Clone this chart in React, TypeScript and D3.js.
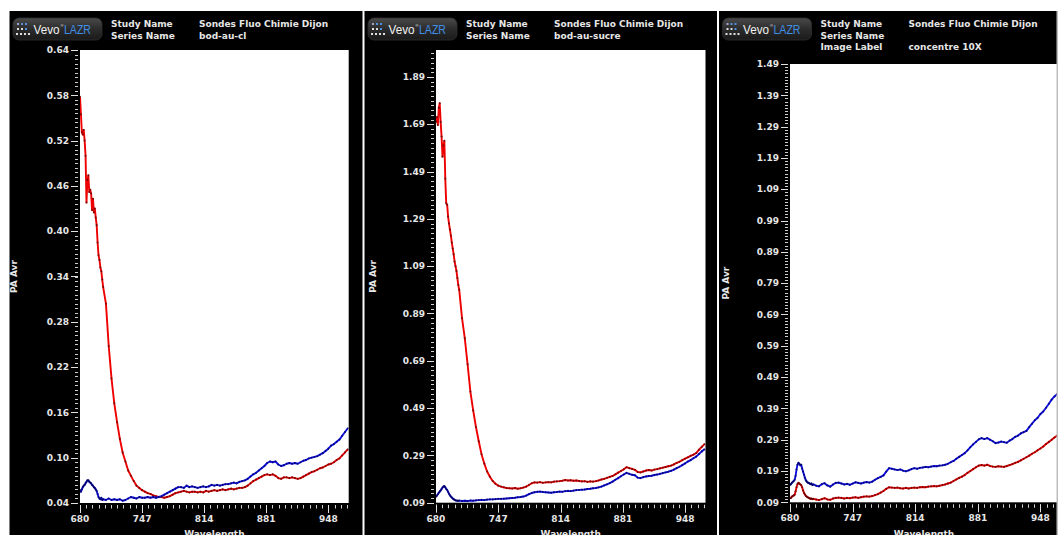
import React from 'react';
import * as d3 from 'd3';

// Wavelength grid (nm) shared by every series
const WAVELENGTHS: number[] = [...d3.range(680, 706, 1), ...d3.range(708, 970, 3)];
const X_TICKS = [680, 747, 814, 881, 948];

const P1_Y_TICKS = [0.04, 0.1, 0.16, 0.22, 0.28, 0.34, 0.4, 0.46, 0.52, 0.58, 0.64];
const P2_Y_TICKS = [0.09, 0.29, 0.49, 0.69, 0.89, 1.09, 1.29, 1.49, 1.69, 1.89];
const P3_Y_TICKS = [0.09, 0.19, 0.29, 0.39, 0.49, 0.59, 0.69, 0.79, 0.89, 0.99, 1.09, 1.19, 1.29, 1.39, 1.49];

// Panel 1 : bod-au-cl
const P1_RED = [
  0.578, 0.555, 0.531, 0.528, 0.534, 0.52, 0.5, 0.438, 0.468, 0.474, 0.452, 0.455, 0.45, 0.428, 0.443, 0.425, 0.43, 0.418, 0.408, 0.385, 0.368, 0.362, 0.352, 0.347, 0.336, 0.326,
  0.304, 0.248, 0.205, 0.172, 0.147, 0.125, 0.107, 0.095, 0.083, 0.076,
  0.069, 0.063, 0.06, 0.057, 0.055, 0.053, 0.052, 0.05, 0.049, 0.048,
  0.048, 0.047, 0.048, 0.049, 0.051, 0.053, 0.054, 0.055, 0.056, 0.055,
  0.054, 0.055, 0.055, 0.054, 0.055, 0.054, 0.056, 0.055, 0.056, 0.057,
  0.056, 0.057, 0.058, 0.057, 0.058, 0.059, 0.058, 0.059, 0.06, 0.06,
  0.061, 0.063, 0.066, 0.069, 0.071, 0.073, 0.075, 0.077, 0.078, 0.077,
  0.078, 0.076, 0.073, 0.072, 0.074, 0.074, 0.073, 0.074, 0.073, 0.072,
  0.073, 0.075, 0.077, 0.079, 0.081, 0.082, 0.084, 0.086, 0.087, 0.089,
  0.091, 0.092, 0.094, 0.097, 0.099, 0.103, 0.107, 0.111,
];
const P1_BLUE = [
  0.057, 0.055, 0.058, 0.061, 0.063, 0.064, 0.066, 0.068, 0.07, 0.07, 0.068, 0.067, 0.066, 0.064, 0.063, 0.061, 0.06, 0.058, 0.056, 0.052, 0.048, 0.046, 0.045, 0.047, 0.044, 0.045,
  0.044, 0.046, 0.044, 0.045, 0.044, 0.045, 0.043, 0.044, 0.046, 0.048,
  0.047, 0.046, 0.048, 0.047, 0.047, 0.048, 0.047, 0.048, 0.047, 0.048,
  0.049, 0.051, 0.053, 0.055, 0.057, 0.059, 0.061, 0.061, 0.06, 0.063,
  0.061, 0.062, 0.061, 0.06, 0.061, 0.062, 0.061, 0.062, 0.064, 0.063,
  0.064, 0.063, 0.064, 0.065, 0.065, 0.066, 0.067, 0.066, 0.068, 0.069,
  0.07, 0.072, 0.075, 0.078, 0.08, 0.083, 0.086, 0.089, 0.093, 0.095,
  0.094, 0.095, 0.091, 0.089, 0.09, 0.092, 0.093, 0.092, 0.093, 0.092,
  0.094, 0.096, 0.097, 0.099, 0.1, 0.101, 0.102, 0.104, 0.106, 0.109,
  0.112, 0.116, 0.118, 0.121, 0.124, 0.129, 0.134, 0.139,
];

// Panel 2 : bod-au-sucre
const P2_RED = [
  1.7, 1.72, 1.687, 1.76, 1.779, 1.7, 1.638, 1.553, 1.6, 1.62, 1.46, 1.356, 1.35, 1.3, 1.27, 1.245, 1.22, 1.19, 1.165, 1.14, 1.11, 1.09, 1.07, 1.04, 1.01, 0.99,
  0.87, 0.785, 0.675, 0.56, 0.48, 0.41, 0.35, 0.295, 0.255, 0.222,
  0.2, 0.182, 0.17, 0.162, 0.158, 0.155, 0.152, 0.151, 0.15, 0.152,
  0.149, 0.151, 0.154, 0.158, 0.165, 0.172, 0.176, 0.175, 0.177, 0.174,
  0.176, 0.177, 0.176, 0.179, 0.18, 0.181, 0.183, 0.186, 0.184, 0.185,
  0.183, 0.184, 0.182, 0.18, 0.181, 0.178, 0.18, 0.179, 0.181, 0.184,
  0.188, 0.191, 0.195, 0.199, 0.203, 0.21, 0.217, 0.224, 0.231, 0.24,
  0.236, 0.233, 0.229, 0.22, 0.218, 0.222, 0.226, 0.228, 0.226, 0.23,
  0.232, 0.235, 0.238, 0.241, 0.244, 0.247, 0.252, 0.258, 0.263, 0.27,
  0.276, 0.282, 0.288, 0.293, 0.3, 0.314, 0.326, 0.338,
];
const P2_BLUE = [
  0.115, 0.12, 0.126, 0.132, 0.137, 0.142, 0.148, 0.154, 0.158, 0.16, 0.155, 0.148, 0.144, 0.136, 0.128, 0.121, 0.116, 0.112, 0.108, 0.105, 0.102, 0.1, 0.099, 0.098, 0.098, 0.099,
  0.097, 0.098, 0.097, 0.099, 0.098, 0.1, 0.101, 0.102, 0.101, 0.103,
  0.104, 0.104, 0.105, 0.106, 0.106, 0.107, 0.108, 0.109, 0.11, 0.111,
  0.113, 0.114, 0.116, 0.12, 0.126, 0.131, 0.134, 0.136, 0.137, 0.135,
  0.134, 0.133, 0.132, 0.134, 0.135, 0.137, 0.136, 0.139, 0.14, 0.139,
  0.141, 0.143, 0.144, 0.145, 0.146, 0.148, 0.149, 0.151, 0.152, 0.155,
  0.158, 0.163, 0.168, 0.173, 0.179, 0.187, 0.194, 0.202, 0.209, 0.216,
  0.212, 0.208, 0.206, 0.196, 0.194, 0.198, 0.201, 0.203, 0.204, 0.207,
  0.209, 0.212, 0.215, 0.218, 0.221, 0.225, 0.23, 0.236, 0.242, 0.249,
  0.256, 0.264, 0.27, 0.278, 0.285, 0.296, 0.307, 0.316,
];

// Panel 3 : concentre 10X
const P3_RED = [
  0.103, 0.104, 0.108, 0.11, 0.112, 0.114, 0.125, 0.138, 0.148, 0.152, 0.15, 0.147, 0.145, 0.138, 0.128, 0.12, 0.115, 0.11, 0.108, 0.106, 0.104, 0.103, 0.101, 0.102, 0.1, 0.101,
  0.099, 0.097, 0.1, 0.103, 0.099, 0.098, 0.102, 0.104, 0.105, 0.104,
  0.102, 0.104, 0.103, 0.105, 0.106, 0.104, 0.106, 0.108, 0.109, 0.108,
  0.11, 0.113, 0.116, 0.121, 0.126, 0.133, 0.138, 0.137, 0.136, 0.137,
  0.135, 0.134, 0.136, 0.134, 0.136, 0.137, 0.136, 0.138, 0.139, 0.138,
  0.14, 0.141, 0.142, 0.141, 0.143, 0.145, 0.147, 0.15, 0.153, 0.158,
  0.163, 0.168, 0.172, 0.177, 0.184, 0.19, 0.196, 0.202, 0.207, 0.209,
  0.207, 0.21, 0.206, 0.204, 0.203, 0.205, 0.204, 0.203, 0.206, 0.209,
  0.212, 0.216, 0.219, 0.224, 0.229, 0.234, 0.239, 0.245, 0.25, 0.256,
  0.262, 0.268, 0.276, 0.283, 0.29, 0.297, 0.303, 0.31,
];
const P3_BLUE = [
  0.145, 0.148, 0.152, 0.155, 0.158, 0.162, 0.175, 0.195, 0.21, 0.216, 0.213, 0.208, 0.21, 0.198, 0.188, 0.178, 0.168, 0.16, 0.156, 0.153, 0.152, 0.15, 0.148, 0.15, 0.145, 0.147,
  0.143, 0.141, 0.148, 0.151, 0.144, 0.14, 0.147, 0.152, 0.153, 0.15,
  0.147, 0.149, 0.146, 0.15, 0.154, 0.152, 0.15, 0.153, 0.155, 0.153,
  0.156, 0.162, 0.167, 0.171, 0.176, 0.188, 0.199, 0.197, 0.195, 0.193,
  0.195, 0.191, 0.189, 0.192, 0.196, 0.199, 0.197, 0.2, 0.201, 0.203,
  0.202, 0.204, 0.206, 0.205, 0.207, 0.208, 0.21, 0.213, 0.218, 0.222,
  0.229, 0.235, 0.241, 0.247, 0.256, 0.266, 0.275, 0.283, 0.291, 0.295,
  0.292, 0.295, 0.29, 0.285, 0.279, 0.281, 0.284, 0.282, 0.28, 0.287,
  0.292, 0.299, 0.303, 0.31, 0.314, 0.318, 0.33, 0.341, 0.352, 0.36,
  0.372, 0.38, 0.392, 0.405, 0.418, 0.428, 0.436, 0.442,
];

const P1_HEADER = [['Study Name', 'Sondes Fluo Chimie Dijon'], ['Series Name', 'bod-au-cl']];
const P2_HEADER = [['Study Name', 'Sondes Fluo Chimie Dijon'], ['Series Name', 'bod-au-sucre']];
const P3_HEADER = [['Study Name', 'Sondes Fluo Chimie Dijon'], ['Series Name', ''], ['Image Label', 'concentre 10X']];

const FONT = '"DejaVu Sans", Verdana, sans-serif';
const TXT = '#e6e6e6';

function Logo({ x }: { x: number }) {
  const dots = [
    [4, 5, '#9aa8c8'], [8, 5, '#4d8fe0'], [12, 5, '#4d8fe0'],
    [4, 10, '#e0e0e0'], [8, 10, '#d8d8d8'], [12, 10, '#4d8fe0'],
    [3, 15, '#e0e0e0'], [7, 15, '#e0e0e0'], [11, 15, '#e0e0e0'], [15, 15, '#e0e0e0'],
  ];
  return (
    <g>
      <rect x={x} y={18} width={89} height={22} rx={6} fill="url(#logoGrad)" stroke="#303030" strokeWidth={0.8} />
      {dots.map((d, i) => (
        <rect key={i} x={x + (d[0] as number)} y={18 + (d[1] as number)} width={2} height={2} fill={d[2] as string} />
      ))}
      <text x={x + 20.5} y={34} fontFamily='"Liberation Sans", Arial, sans-serif' fontSize={12} fill="#f2f2f2" textLength={26} lengthAdjust="spacingAndGlyphs">Vevo</text>
      <text x={x + 47.5} y={27} fontFamily='"Liberation Sans", Arial, sans-serif' fontSize={4} fill="#f2f2f2">®</text>
      <text x={x + 51} y={34} fontFamily='"Liberation Sans", Arial, sans-serif' fontSize={12} fill="#3f8fe6" textLength={27} lengthAdjust="spacingAndGlyphs">LAZR</text>
    </g>
  );
}

type PanelProps = {
  id: string;
  fx0: number; fx1: number;
  px0: number; px1: number; py0: number; py1: number;
  yDomain: [number, number];
  yTicks: number[];
  yMinor: number;
  header: string[][];
  red: number[]; blue: number[];
  yLabelX: number;
};

function Panel(p: PanelProps) {
  const x = d3.scaleLinear().domain([680, 970]).range([p.px0, p.px1]);
  const y = d3.scaleLinear().domain(p.yDomain).range([p.py1, p.py0]);
  const line = d3.line<number>().x((_, i) => x(WAVELENGTHS[i])).y((d) => y(d));
  const nYMinor = Math.floor((p.yDomain[1] - p.yDomain[0]) / p.yMinor + 1e-6);
  const yMinorTicks = d3.range(0, nYMinor + 1).map((i) => p.yDomain[0] + i * p.yMinor);
  const xMinorStep = 6.7;
  const xMinorTicks = d3.range(0, Math.floor(290 / xMinorStep + 1e-6) + 1).map((i) => 680 + i * xMinorStep);
  const series = [
    { data: p.red, line: '#ee0000', dot: '#500000' },
    { data: p.blue, line: '#1010ee', dot: '#000048' },
  ];
  return (
    <g>
      <rect x={p.fx0} y={11} width={p.fx1 - p.fx0} height={524} fill="#000" />
      <Logo x={p.fx0 + 3.5} />
      {p.header.map((row, i) => (
        <g key={i} fontFamily={FONT} fontSize={9} fontWeight="bold" fill={TXT}>
          <text x={p.fx0 + 101.5} y={27 + i * 11.5}>{row[0]}</text>
          <text x={p.fx0 + 189.5} y={27 + i * 11.5}>{row[1]}</text>
        </g>
      ))}
      <rect x={p.px0} y={p.py0} width={p.px1 - p.px0} height={p.py1 - p.py0} fill="#fff" />
      <clipPath id={`clip-${p.id}`}>
        <rect x={p.px0} y={p.py0} width={p.px1 - p.px0} height={p.py1 - p.py0} />
      </clipPath>
      <g clipPath={`url(#clip-${p.id})`}>
        {series.map((s, k) => (
          <g key={k}>
            <path d={line(s.data) || ''} fill="none" stroke={s.line} strokeWidth={1.9} strokeLinejoin="round" />
            {s.data.map((v, i) => (
              <circle key={i} cx={x(WAVELENGTHS[i])} cy={y(v)} r={1.05} fill={s.dot} opacity={0.7} />
            ))}
          </g>
        ))}
      </g>
      {/* y axis */}
      {yMinorTicks.map((v, i) => (
        <line key={'ym' + i} x1={p.px0 - 5} x2={p.px0 - 2} y1={Math.round(y(v)) + 0.5} y2={Math.round(y(v)) + 0.5} stroke="#cfcfcf" strokeWidth={1} />
      ))}
      {p.yTicks.map((v, i) => (
        <g key={'y' + i}>
          <line x1={p.px0 - 9} x2={p.px0 - 2} y1={Math.round(y(v)) + 0.5} y2={Math.round(y(v)) + 0.5} stroke="#e0e0e0" strokeWidth={1} />
          <text x={p.px0 - 11} y={y(v) + 3.2} textAnchor="end" fontFamily={FONT} fontSize={9} fontWeight="bold" fill={TXT}>{v.toFixed(2)}</text>
        </g>
      ))}
      {/* x axis */}
      {xMinorTicks.map((v, i) => (
        <line key={'xm' + i} x1={Math.round(x(v)) + 0.5} x2={Math.round(x(v)) + 0.5} y1={p.py1 + 2} y2={p.py1 + 5.5} stroke="#cfcfcf" strokeWidth={1} />
      ))}
      {X_TICKS.map((v, i) => (
        <g key={'x' + i}>
          <line x1={Math.round(x(v)) + 0.5} x2={Math.round(x(v)) + 0.5} y1={p.py1 + 2} y2={p.py1 + 10} stroke="#e0e0e0" strokeWidth={1} />
          <text x={x(v)} y={p.py1 + 19} textAnchor="middle" fontFamily={FONT} fontSize={9} fontWeight="bold" fill={TXT}>{v}</text>
        </g>
      ))}
      <text x={(p.px0 + Math.min(p.px1, 1058)) / 2} y={537} textAnchor="middle" fontFamily={FONT} fontSize={9} fontWeight="bold" fill={TXT}>Wavelength</text>
      <text transform={`translate(${p.yLabelX + 3.3},${(p.py0 + p.py1) / 2}) rotate(-90)`} textAnchor="middle" fontFamily={FONT} fontSize={9} fontWeight="bold" fill={TXT}>PA Avr</text>
    </g>
  );
}

export default function App() {
  return (
    <svg width={1058} height={535} style={{ position: 'absolute', left: 0, top: 0, background: '#fff' }}>
      <defs>
        <linearGradient id="logoGrad" x1="0" y1="0" x2="0" y2="1">
          <stop offset="0" stopColor="#4a4a4a" />
          <stop offset="0.5" stopColor="#2c2c2c" />
          <stop offset="1" stopColor="#1a1a1a" />
        </linearGradient>
      </defs>
      <rect x={0} y={0} width={1058} height={535} fill="#fff" />
      <Panel id="p1" fx0={9.5} fx1={362.5} px0={80} px1={348.7} py0={50} py1={503}
        yDomain={[0.04, 0.64]} yTicks={P1_Y_TICKS} yMinor={0.006} header={P1_HEADER}
        red={P1_RED} blue={P1_BLUE} yLabelX={14} />
      <Panel id="p2" fx0={364.5} fx1={717} px0={436} px1={705.5} py0={50} py1={502.7}
        yDomain={[0.09, 2.004]} yTicks={P2_Y_TICKS} yMinor={0.02} header={P2_HEADER}
        red={P2_RED} blue={P2_BLUE} yLabelX={373} />
      <Panel id="p3" fx0={719} fx1={1058} px0={790} px1={1061} py0={64} py1={502.3}
        yDomain={[0.09, 1.49]} yTicks={P3_Y_TICKS} yMinor={0.01} header={P3_HEADER}
        red={P3_RED} blue={P3_BLUE} yLabelX={725.5} />
      <rect x={1056.5} y={11} width={1.5} height={524} fill="#bdbdbd" />
    </svg>
  );
}
